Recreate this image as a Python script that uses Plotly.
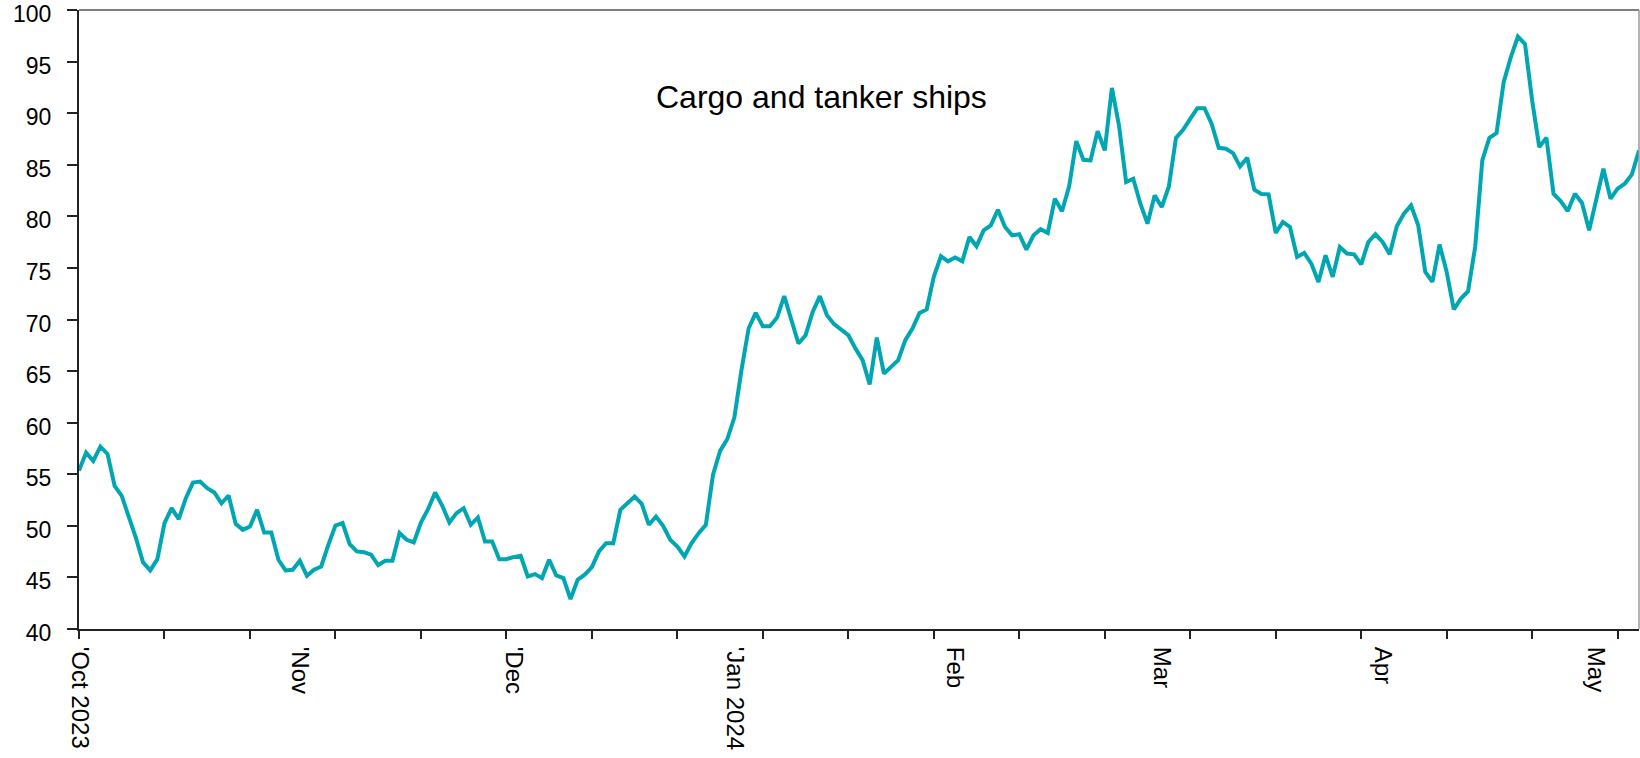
import plotly.graph_objects as go
import pandas as pd

start_date = "2023-10-01"
series_name = "Cargo and tanker ships"
values = [
    55.35, 57.10, 56.29, 57.68, 56.97, 53.87, 52.90, 50.90, 48.81, 46.45,
    45.68, 46.77, 50.26, 51.71, 50.65, 52.68, 54.19, 54.29, 53.65, 53.23,
    52.19, 52.94, 50.19, 49.61, 49.94, 51.55, 49.35, 49.35, 46.71, 45.68,
    45.74, 46.61, 45.16, 45.74, 46.06, 48.16, 50.03, 50.26, 48.23, 47.52,
    47.45, 47.20, 46.20, 46.61, 46.61, 49.30, 48.65, 48.39, 50.32, 51.61,
    53.23, 51.94, 50.32, 51.23, 51.71, 50.10, 50.81, 48.48, 48.48, 46.77,
    46.77, 46.97, 47.10, 45.10, 45.32, 44.94, 46.71, 45.19, 44.94, 42.90,
    44.77, 45.26, 46.00, 47.52, 48.32, 48.32, 51.55, 52.19, 52.84, 52.13,
    50.10, 50.90, 50.00, 48.65, 48.00, 47.03, 48.32, 49.29, 50.10, 54.94,
    57.26, 58.39, 60.50, 65.09, 69.13, 70.64, 69.35, 69.35, 70.19, 72.26,
    69.93, 67.67, 68.48, 70.74, 72.26, 70.42, 69.55, 69.03, 68.48, 67.20,
    66.06, 63.70, 68.25, 64.75, 65.42, 66.06, 68.00, 69.13, 70.64, 70.97,
    74.13, 76.13, 75.64, 76.00, 75.64, 78.00, 77.10, 78.64, 79.13, 80.64,
    78.97, 78.16, 78.26, 76.77, 78.16, 78.75, 78.39, 81.71, 80.50, 82.90,
    87.29, 85.48, 85.42, 88.26, 86.39, 92.45, 88.80, 83.32, 83.64, 81.22,
    79.29, 82.03, 80.90, 82.90, 87.61, 88.39, 89.45, 90.48, 90.48, 88.97,
    86.64, 86.55, 86.13, 84.84, 85.68, 82.58, 82.16, 82.13, 78.39, 79.45,
    78.97, 76.06, 76.45, 75.42, 73.64, 76.22, 74.13, 77.03, 76.39, 76.32,
    75.35, 77.51, 78.26, 77.51, 76.32, 79.03, 80.26, 81.06, 79.13, 74.61,
    73.64, 77.26, 74.61, 70.97, 72.03, 72.74, 77.03, 85.42, 87.61, 88.06,
    93.00, 95.42, 97.42, 96.70, 91.22, 86.71, 87.61, 82.19, 81.48, 80.51,
    82.19, 81.29, 78.64, 81.55, 84.61, 81.71, 82.68, 83.16, 84.06, 86.39,
]
dates = pd.date_range(start_date, periods=len(values), freq="D")

month_ticks = ["2023-10-01 02:00", "2023-11-01", "2023-12-01", "2024-01-01",
               "2024-02-01", "2024-03-01", "2024-04-01", "2024-05-01"]
month_labels = ["'Oct 2023", "'Nov", "'Dec", "'Jan 2024", "Feb", "Mar", "Apr", "May"]
y_ticks = [40, 45, 50, 55, 60, 65, 70, 75, 80, 85, 90, 95, 100]

FONT = "Liberation Sans, Arial, sans-serif"
DAY_MS = 86400000

fig = go.Figure()
fig.add_trace(go.Scatter(
    x=dates, y=values, mode="lines", name=series_name,
    line=dict(color="#00A7B3", width=4), showlegend=False,
))

fig.update_layout(
    width=1640, height=758,
    margin=dict(l=79, r=1, t=10, b=129),
    paper_bgcolor="white", plot_bgcolor="white",
    font=dict(family=FONT, color="black"),
    xaxis=dict(
        range=[dates[0], dates[-1]], automargin=False,
        tickmode="array", tickvals=month_ticks, ticktext=month_labels,
        tickangle=90, ticks="", tickfont=dict(size=24, family=FONT, color="black"),
        ticklabelstandoff=11, ticklabeloverflow="allow",
        showgrid=False, zeroline=False,
        showline=True, linecolor="#222222", linewidth=2,
        minor=dict(ticks="outside", ticklen=8, tickwidth=1.5, tickcolor="#222222",
                   tick0=start_date, dtick=12 * DAY_MS, showgrid=False),
    ),
    yaxis=dict(
        range=[40, 100], automargin=False, tickmode="array", tickvals=y_ticks,
        ticks="outside", ticklen=10, tickwidth=1.5, tickcolor="#222222",
        tickfont=dict(size=23, family=FONT, color="black"),
        ticklabelstandoff=11, ticklabelshift=4, ticklabeloverflow="allow",
        showgrid=False, zeroline=False,
        showline=True, linecolor="#222222", linewidth=2,
    ),
    annotations=[dict(
        text=series_name, xref="paper", yref="paper", x=0.476, y=0.86,
        xanchor="center", yanchor="middle", showarrow=False,
        font=dict(size=32, family=FONT, color="black"),
    )],
    shapes=[
        dict(type="line", xref="paper", yref="paper", x0=0, x1=1, y0=1, y1=1,
             line=dict(color="#555555", width=1.5)),
        dict(type="line", xref="paper", yref="paper", x0=1, x1=1, y0=0, y1=1,
             line=dict(color="#999999", width=1.5)),
    ],
)

fig.write_html(
    "out.html",
    config={"displayModeBar": False},
    post_script="document.body.style.margin='0px';document.body.style.overflow='hidden';",
)
